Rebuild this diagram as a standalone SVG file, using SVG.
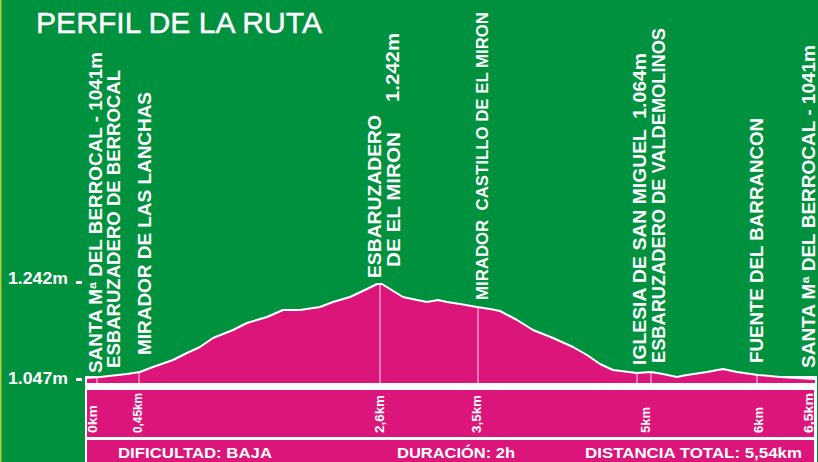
<svg xmlns="http://www.w3.org/2000/svg" width="818" height="462" viewBox="0 0 818 462">
<style>
.v{font-family:"Liberation Sans",Arial,sans-serif;font-weight:bold;font-size:18px;fill:#fff}
.km{font-family:"Liberation Sans",Arial,sans-serif;font-weight:bold;font-size:12px;fill:#fff}
.ax{font-family:"Liberation Sans",Arial,sans-serif;font-weight:bold;font-size:17px;fill:#fff}
.ft{font-family:"Liberation Sans",Arial,sans-serif;font-weight:bold;font-size:15px;fill:#fff}
.mk{stroke:#fff;stroke-width:1;opacity:0.85}
</style>
<rect x="0" y="0" width="818" height="462" fill="#00913f"/>
<rect x="0" y="0" width="1.5" height="462" fill="#b3cf2e"/>
<text x="36" y="33" font-family="Liberation Sans, Arial, sans-serif" font-size="29" fill="#fff" stroke="#fff" stroke-width="0.4" textLength="286" lengthAdjust="spacingAndGlyphs">PERFIL DE LA RUTA</text>

<g id="axis">
<text class="ax" x="8" y="284" textLength="60" lengthAdjust="spacingAndGlyphs">1.242m</text>
<rect x="76" y="281" width="6" height="3" fill="#fff"/>
<text class="ax" x="8" y="384" textLength="60" lengthAdjust="spacingAndGlyphs">1.047m</text>
<rect x="76" y="378" width="6" height="3" fill="#fff"/>
</g>

<g id="panel">
<rect x="85" y="376" width="732" height="86" fill="#fff"/>
<rect x="87" y="390" width="727" height="47" fill="#db1579"/>
<rect x="87" y="440" width="727" height="22" fill="#db1579"/>
</g>

<g id="profile">
<path d="M87,383 L87,378 L100,377 L127,374 L140,372 L153,367 L173,360 L187,353 L200,347 L213,338 L233,330 L247,323 L267,317 L283,310 L300,310 L320,307 L333,302 L350,297 L367,289 L377,284 L382,284 L390,289 L403,297 L417,300 L427,302 L438,300 L447,302 L460,304 L477,307 L490,309 L500,311 L517,320 L533,330 L553,338 L573,347 L587,355 L600,364 L613,370 L637,373 L651,372 L663,374 L677,377 L687,375 L707,372 L723,369 L737,372 L758,375 L780,377 L815,379 L815,383 Z" fill="#db1579"/>
</g>

<g id="connectors">
<line class="mk" x1="97" y1="377" x2="97" y2="383"/>
<line class="mk" x1="139" y1="372" x2="139" y2="383"/>
<line class="mk" x1="380" y1="284" x2="380" y2="383"/>
<line class="mk" x1="478" y1="307" x2="478" y2="383"/>
<line class="mk" x1="637" y1="373" x2="637" y2="383"/>
<line class="mk" x1="651" y1="372" x2="651" y2="383"/>
<line class="mk" x1="757" y1="375" x2="757" y2="383"/>
</g>

<g id="profile-line">
<polyline points="87,378 100,377 127,374 140,372 153,367 173,360 187,353 200,347 213,338 233,330 247,323 267,317 283,310 300,310 320,307 333,302 350,297 367,289 377,284 382,284 390,289 403,297 417,300 427,302 438,300 447,302 460,304 477,307 490,309 500,311 517,320 533,330 553,338 573,347 587,355 600,364 613,370 637,373 651,372 663,374 677,377 687,375 707,372 723,369 737,372 758,375 780,377 815,379" fill="none" stroke="#fff" stroke-width="2" stroke-linejoin="round"/>
</g>

<g id="n-santa-start"><text class="v" transform="translate(101.5,373) rotate(-90)" textLength="321" lengthAdjust="spacingAndGlyphs">SANTA Mª DEL BERROCAL - 1041m</text></g>
<g id="n-esb-berrocal"><text class="v" transform="translate(120,368) rotate(-90)" textLength="298" lengthAdjust="spacingAndGlyphs">ESBARUZADERO DE BERROCAL</text></g>
<g id="n-mirador-lanchas"><text class="v" transform="translate(151,355) rotate(-90)" textLength="263" lengthAdjust="spacingAndGlyphs">MIRADOR DE LAS LANCHAS</text></g>
<g id="n-esb-miron">
<text class="v" transform="translate(381,278) rotate(-90)" textLength="163" lengthAdjust="spacingAndGlyphs">ESBARUZADERO</text>
<text class="v" transform="translate(400,267) rotate(-90)" textLength="135" lengthAdjust="spacingAndGlyphs">DE EL MIRON</text>
<text class="v" transform="translate(399,102) rotate(-90)" textLength="69" lengthAdjust="spacingAndGlyphs">1.242m</text>
</g>
<g id="n-mirador-castillo"><text class="v" style="font-size:17px" transform="translate(488,300) rotate(-90)" textLength="288" lengthAdjust="spacingAndGlyphs" xml:space="preserve">MIRADOR  CASTILLO DE EL MIRON</text></g>
<g id="n-iglesia"><text class="v" transform="translate(646,365) rotate(-90)" textLength="312" lengthAdjust="spacingAndGlyphs" xml:space="preserve">IGLESIA DE SAN MIGUEL  1.064m</text></g>
<g id="n-esb-valdemolinos"><text class="v" transform="translate(665,363) rotate(-90)" textLength="335" lengthAdjust="spacingAndGlyphs">ESBARUZADERO DE VALDEMOLINOS</text></g>
<g id="n-fuente"><text class="v" transform="translate(763,363) rotate(-90)" textLength="245" lengthAdjust="spacingAndGlyphs">FUENTE DEL BARRANCON</text></g>
<g id="n-santa-end"><text class="v" transform="translate(815,368) rotate(-90)" textLength="323" lengthAdjust="spacingAndGlyphs">SANTA Mª DEL BERROCAL - 1041m</text></g>

<g id="km-labels">
<text class="km" transform="translate(97,433) rotate(-90)" textLength="28" lengthAdjust="spacingAndGlyphs">0km</text>
<text class="km" transform="translate(142,433) rotate(-90)" textLength="40" lengthAdjust="spacingAndGlyphs">0,45km</text>
<text class="km" transform="translate(384,433) rotate(-90)" textLength="38" lengthAdjust="spacingAndGlyphs">2,6km</text>
<text class="km" transform="translate(481,433) rotate(-90)" textLength="38" lengthAdjust="spacingAndGlyphs">3,5km</text>
<text class="km" transform="translate(650,433) rotate(-90)" textLength="26" lengthAdjust="spacingAndGlyphs">5km</text>
<text class="km" transform="translate(763,433) rotate(-90)" textLength="26" lengthAdjust="spacingAndGlyphs">6km</text>
<text class="km" transform="translate(813,433) rotate(-90)" textLength="40" lengthAdjust="spacingAndGlyphs">6,5km</text>
</g>

<g id="footer">
<text class="ft" x="118" y="458" textLength="154" lengthAdjust="spacingAndGlyphs">DIFICULTAD: BAJA</text>
<text class="ft" x="397" y="458" textLength="118" lengthAdjust="spacingAndGlyphs">DURACIÓN: 2h</text>
<text class="ft" x="585" y="458" textLength="217" lengthAdjust="spacingAndGlyphs">DISTANCIA TOTAL: 5,54km</text>
</g>
</svg>
